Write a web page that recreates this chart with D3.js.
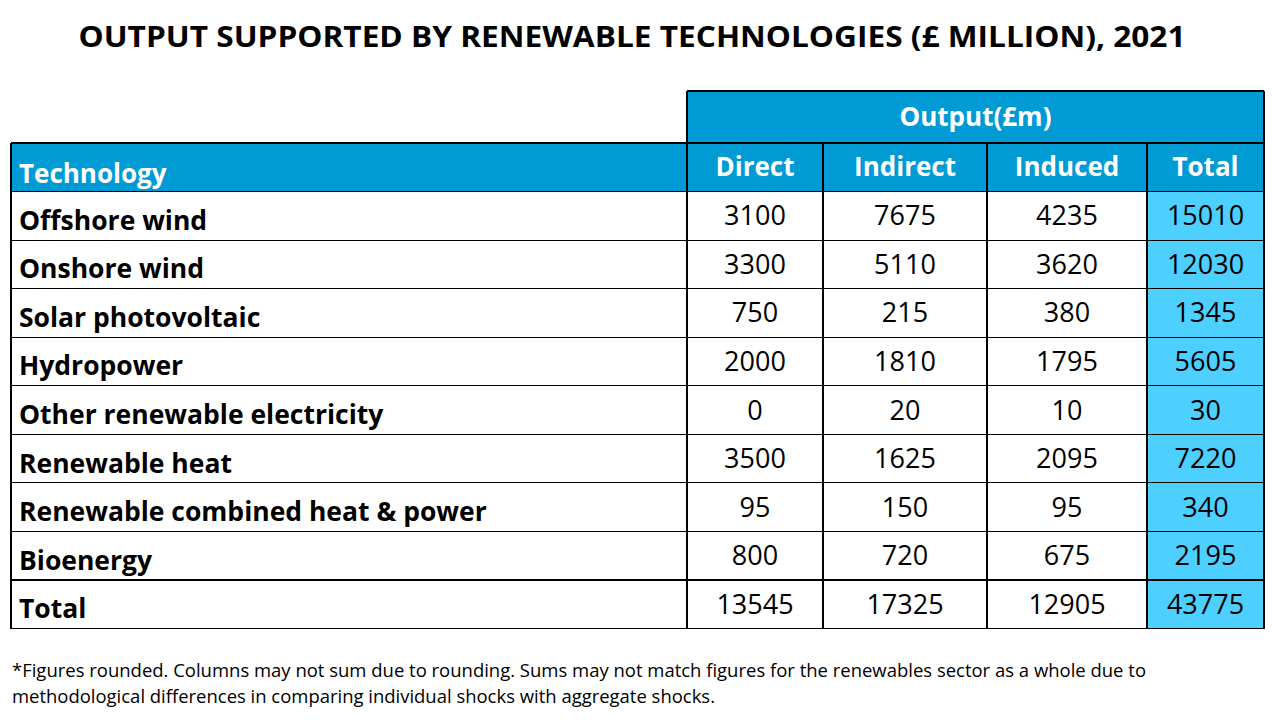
<!DOCTYPE html>
<html>
<head>
<meta charset="utf-8">
<script src="https://cdn.jsdelivr.net/npm/d3@7"></script>
<style>
  html, body { margin: 0; padding: 0; background: #fff; }
  svg { display: block; font-family: "Open Sans", Lato, sans-serif; }
</style>
</head>
<body>
<svg id="chart" width="1280" height="720"></svg>
<script>
const title = "OUTPUT SUPPORTED BY RENEWABLE TECHNOLOGIES (£ MILLION), 2021";
const groupHeader = "Output(£m)";
const columns = ["Direct", "Indirect", "Induced", "Total"];
const technologies = ["Offshore wind", "Onshore wind", "Solar photovoltaic", "Hydropower",
  "Other renewable electricity", "Renewable heat", "Renewable combined heat & power", "Bioenergy", "Total"];
const direct   = [3100, 3300, 750, 2000, 0, 3500, 95, 800, 13545];
const indirect = [7675, 5110, 215, 1810, 20, 1625, 150, 720, 17325];
const induced  = [4235, 3620, 380, 1795, 10, 2095, 95, 675, 12905];
const total    = [15010, 12030, 1345, 5605, 30, 7220, 340, 2195, 43775];
const footnote = ["*Figures rounded. Columns may not sum due to rounding. Sums may not match figures for the renewables sector as a whole due to",
  "methodological differences  in comparing individual shocks with aggregate shocks."];

const values = [direct, indirect, induced, total];

const svg = d3.select("#chart");
const HEAD = "#009BD5", LIGHT = "#4DCFFF";
const FS_HEAD = 26, FS_LABEL = 26.5, FS_NUM = 27;

// layout
const tableLeft = 11, tableRight = 1264;
const colEdges = [tableLeft, 687, 823, 987, 1147, tableRight];
const x = d3.scaleOrdinal().domain(["Technology", ...columns]).range(colEdges.slice(0, 6));
const xEnd = d3.scaleOrdinal().domain(["Technology", ...columns]).range(colEdges.slice(1));

const groupTop = 91, headTop = 143, tableBottom = 628.5;
const rowKeys = ["head", ...technologies.map((d, i) => "r" + i)];
const y = d3.scaleBand().domain(rowKeys).range([headTop, tableBottom]).padding(0);
const bw = y.bandwidth();

// title
svg.append("text").attr("x", 632).attr("y", 47).attr("text-anchor", "middle")
  .attr("font-size", 29).attr("font-weight", 700).attr("fill", "#000")
  .attr("textLength", 1107).attr("lengthAdjust", "spacingAndGlyphs").text(title);

// group header
svg.append("rect").attr("x", x("Direct")).attr("y", groupTop)
  .attr("width", tableRight - x("Direct")).attr("height", headTop - groupTop).attr("fill", HEAD);
svg.append("text").attr("x", (x("Direct") + tableRight) / 2).attr("y", (groupTop + headTop) / 2 + 9)
  .attr("text-anchor", "middle").attr("font-size", FS_HEAD).attr("font-weight", 700).attr("fill", "#fff").text(groupHeader);

// header row
svg.append("rect").attr("x", tableLeft).attr("y", y("head"))
  .attr("width", tableRight - tableLeft).attr("height", bw).attr("fill", HEAD);
svg.append("text").attr("x", 19).attr("y", y("head") + bw / 2 + 16)
  .attr("font-size", FS_HEAD).attr("font-weight", 700).attr("fill", "#fff").text("Technology");
svg.selectAll(".colhead").data(columns).join("text")
  .attr("x", d => (x(d) + xEnd(d)) / 2).attr("y", y("head") + bw / 2 + 9)
  .attr("text-anchor", "middle").attr("font-size", FS_HEAD).attr("font-weight", 700).attr("fill", "#fff").text(d => d);

// total column background
svg.append("rect").attr("x", x("Total")).attr("y", y("r0"))
  .attr("width", xEnd("Total") - x("Total")).attr("height", tableBottom - y("r0")).attr("fill", LIGHT);

// row labels and values
technologies.forEach((t, i) => {
  const yy = y("r" + i);
  svg.append("text").attr("x", 19).attr("y", yy + bw / 2 + 14)
    .attr("font-size", FS_LABEL).attr("font-weight", 700).attr("fill", "#000").text(t);
  columns.forEach((c, j) => {
    svg.append("text").attr("x", (x(c) + xEnd(c)) / 2).attr("y", yy + bw / 2 + 9.5)
      .attr("text-anchor", "middle").attr("font-size", FS_NUM).attr("fill", "#000").text(values[j][i]);
  });
});

// grid lines
const g = svg.append("g").attr("stroke", "#000").attr("stroke-width", 1.2).attr("shape-rendering", "crispEdges");
g.append("line").attr("x1", x("Direct")).attr("x2", tableRight).attr("y1", groupTop).attr("y2", groupTop);
rowKeys.forEach(k => {
  g.append("line").attr("x1", tableLeft).attr("x2", tableRight).attr("y1", y(k)).attr("y2", y(k));
});
g.append("line").attr("x1", tableLeft).attr("x2", tableRight).attr("y1", tableBottom).attr("y2", tableBottom);
g.append("line").attr("x1", tableLeft).attr("x2", tableLeft).attr("y1", headTop).attr("y2", tableBottom);
g.append("line").attr("x1", x("Direct")).attr("x2", x("Direct")).attr("y1", groupTop).attr("y2", tableBottom);
g.append("line").attr("x1", tableRight).attr("x2", tableRight).attr("y1", groupTop).attr("y2", tableBottom);
columns.slice(1).forEach(c => {
  g.append("line").attr("x1", x(c)).attr("x2", x(c)).attr("y1", headTop).attr("y2", tableBottom);
});

// footnote
const footLen = [1134, 703];
svg.selectAll(".foot").data(footnote).join("text")
  .attr("x", 12).attr("y", (d, i) => 677 + i * 26)
  .attr("font-size", 17.5).attr("fill", "#000")
  .attr("textLength", (d, i) => footLen[i]).attr("lengthAdjust", "spacingAndGlyphs")
  .text(d => d);
</script>
</body>
</html>
